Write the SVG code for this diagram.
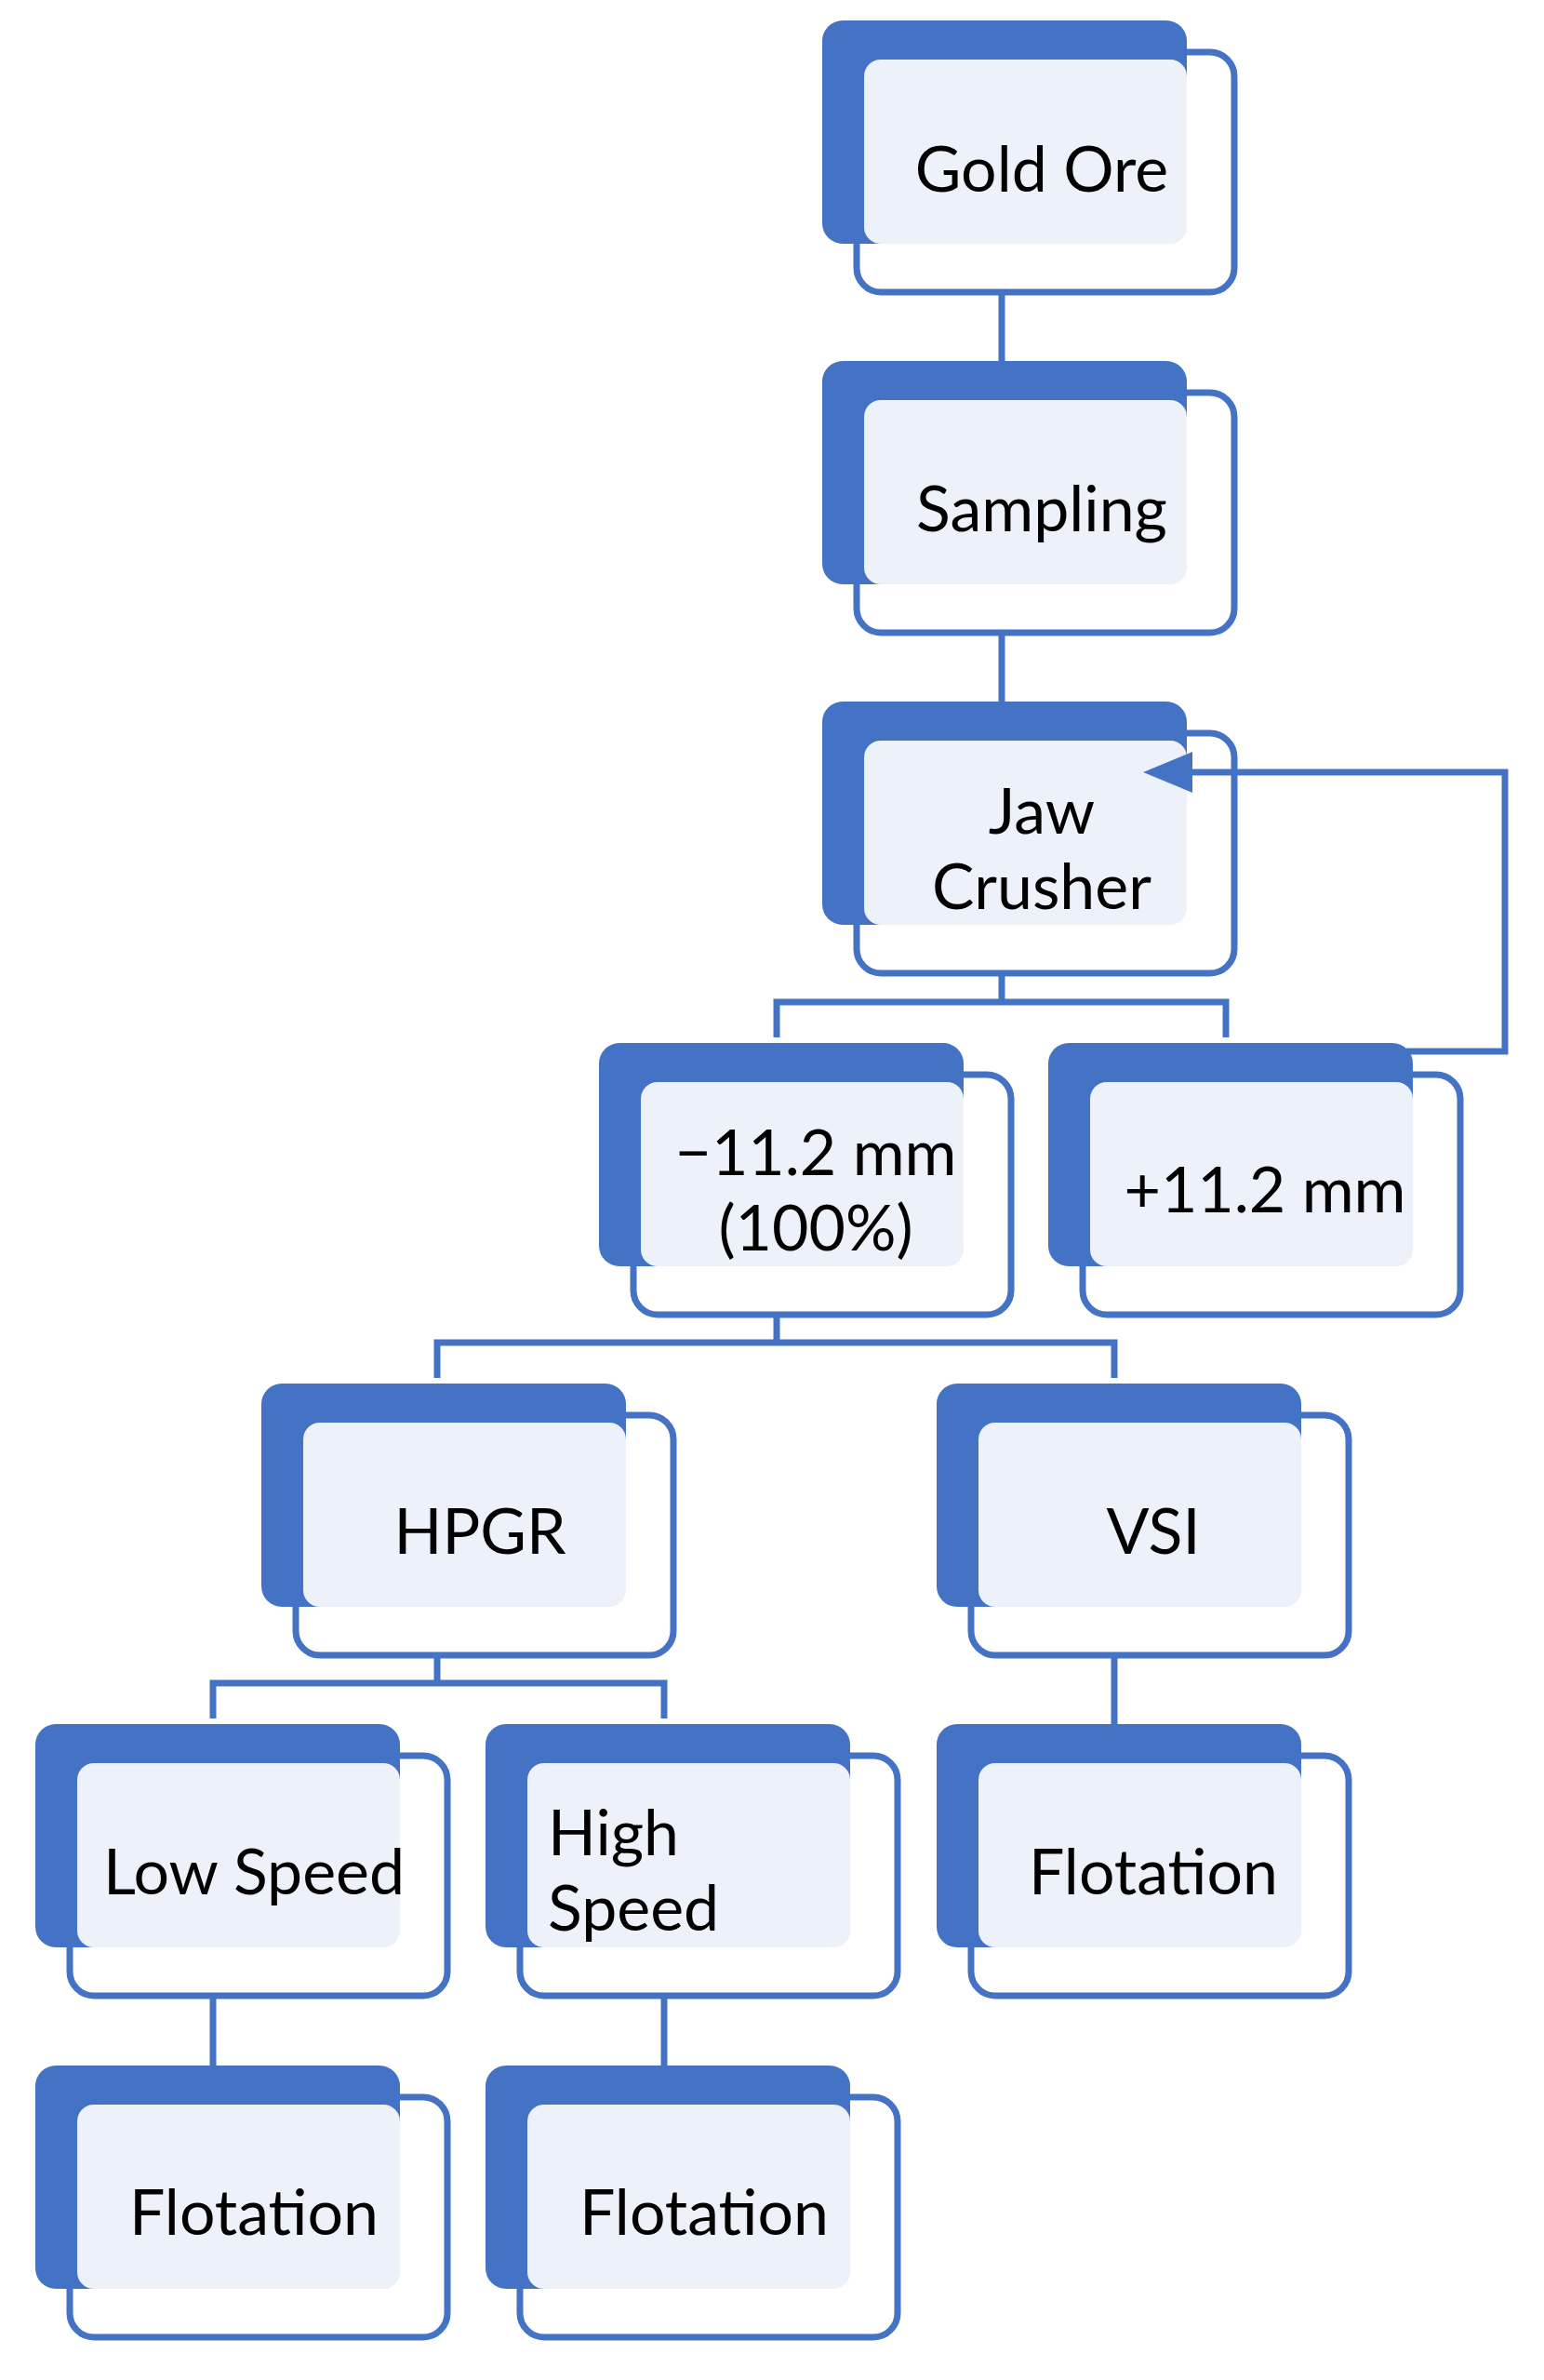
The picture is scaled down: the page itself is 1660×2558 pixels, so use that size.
<svg xmlns="http://www.w3.org/2000/svg" width="1660" height="2558" viewBox="0 0 1660 2558">
<defs>
<style>
.bk{fill:#4472C4}
.lt{fill:#EDF1FA}
.ol{fill:none;stroke:#4472C4;stroke-width:7}
.c{fill:none;stroke:#4472C4;stroke-width:7}
text{font-family:Lato,"Open Sans",sans-serif;font-size:68px;fill:#000;text-anchor:middle}
</style>
<g id="box">
<rect class="bk" x="0" y="0" width="392" height="240" rx="22"/>
<rect class="lt" x="45" y="42" width="347" height="198" rx="18"/>
<rect class="ol" x="37" y="34" width="406" height="258" rx="26"/>
</g>
</defs>
<g id="n1"><use href="#box" x="884" y="22"/><text x="1120" y="206">Gold Ore</text></g>
<g id="n2"><use href="#box" x="884" y="388"/><text x="1120" y="571">Sampling</text></g>
<g id="n3"><use href="#box" x="884" y="754"/><text x="1120" y="896">Jaw</text><text x="1120" y="977">Crusher</text></g>
<g id="n4"><use href="#box" x="644" y="1121"/><text x="877" y="1263">−11.2 mm</text><text x="877" y="1344">(100%)</text></g>
<g id="n5"><use href="#box" x="1127" y="1121"/><text x="1360" y="1303">+11.2 mm</text></g>
<g id="n6"><use href="#box" x="281" y="1487"/><text x="516" y="1670">HPGR</text></g>
<g id="n7"><use href="#box" x="1007" y="1487"/><text x="1240" y="1670">VSI</text></g>
<g id="n8"><use href="#box" x="38" y="1853"/><text x="273" y="2036">Low Speed</text></g>
<g id="n9"><use href="#box" x="522" y="1853"/><text x="589" y="1994" style="text-anchor:start">High</text><text x="589" y="2075" style="text-anchor:start">Speed</text></g>
<g id="n10"><use href="#box" x="1007" y="1853"/><text x="1240" y="2036">Flotation</text></g>
<g id="n11"><use href="#box" x="38" y="2220"/><text x="273" y="2402">Flotation</text></g>
<g id="n12"><use href="#box" x="522" y="2220"/><text x="757" y="2402">Flotation</text></g>
<g id="connectors">
<path class="c" d="M1077 314V388M1077 680V754"/>
<path class="c" d="M1077 1046V1077M835 1115V1077H1318V1115"/>
<path class="c" d="M1512 1130H1618V830H1282"/>
<polygon fill="#4472C4" points="1229,830 1282,808 1282,852"/>
<path class="c" d="M835 1413V1443M470 1481V1443H1198V1481"/>
<path class="c" d="M470 1779V1809M229 1847V1809H714V1847"/>
<path class="c" d="M1198 1779V1853M229 2145V2220M714 2145V2220"/>
</g>
</svg>
